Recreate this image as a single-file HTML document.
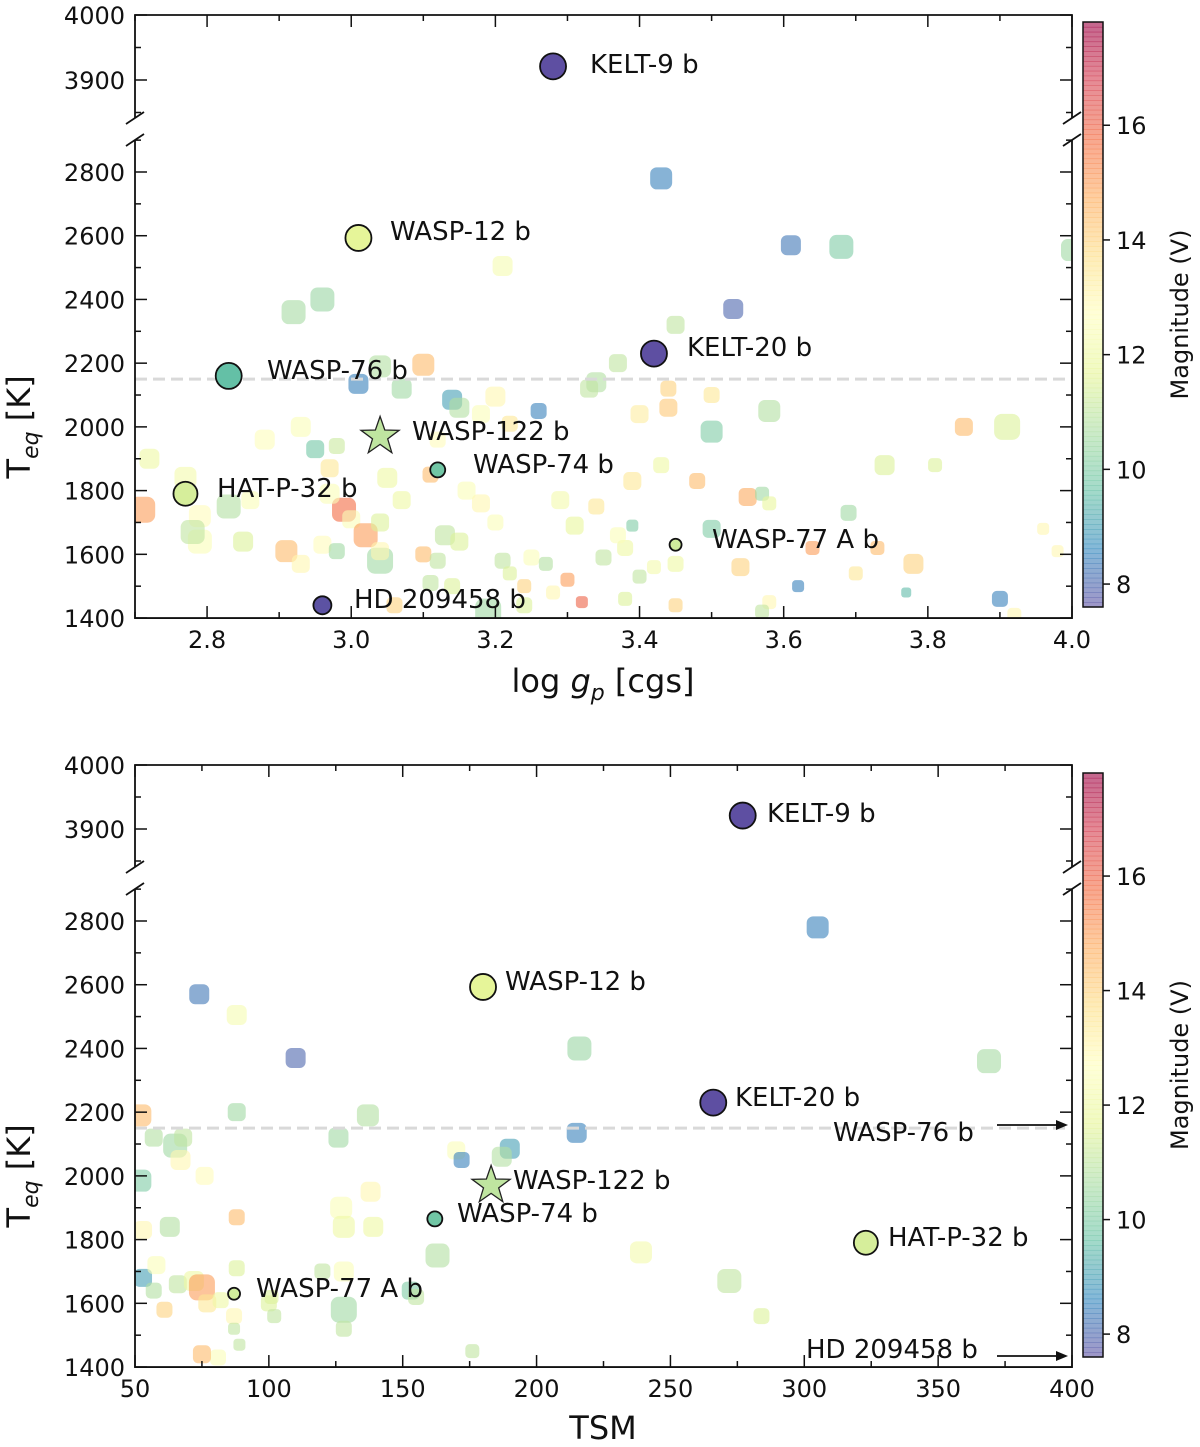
<!DOCTYPE html>
<html><head><meta charset="utf-8">
<style>
body{margin:0;background:#fff;}
svg{display:block;font-family:"DejaVu Sans","Liberation Sans",sans-serif;}
</style></head>
<body>
<svg id="fig" width="1200" height="1447" viewBox="0 0 1200 1447" xmlns="http://www.w3.org/2000/svg"></svg>
<script>
// ---------- DATA ----------
const topLogg = [3.43,3.61,3.68,4.0,3.53,3.21,2.92,2.96,3.45,3.04,3.10,3.37,3.01,3.07,3.14,3.15,3.20,3.34,3.33,3.26,3.18,3.22,3.40,3.44,3.44,3.50,3.58,3.50,3.85,3.91,2.93,2.95,2.88,2.98,2.97,2.72,2.77,2.79,2.83,2.86,2.71,2.79,2.78,2.85,2.91,2.93,2.96,2.98,2.99,2.97,3.00,3.02,3.04,3.04,3.04,3.05,3.07,3.10,3.11,3.12,3.13,3.15,3.11,3.16,3.18,3.20,3.21,3.22,3.25,3.24,3.28,3.27,3.30,3.32,3.29,3.31,3.34,3.35,3.38,3.37,3.39,3.40,3.42,3.45,3.39,3.43,3.48,3.55,3.57,3.58,3.50,3.54,3.58,3.62,3.64,3.70,3.73,3.69,3.74,3.81,3.78,3.77,3.90,3.92,3.98,3.96,3.57,3.19,3.24,3.06,3.38,3.45,3.14,3.12];
const topTeq = [2780,2570,2565,2555,2370,2505,2360,2400,2320,2190,2195,2200,2135,2120,2085,2060,2095,2140,2120,2050,2040,2010,2040,2060,2120,2100,2050,1985,2000,2000,2000,1930,1960,1940,1870,1900,1840,1720,1750,1770,1740,1640,1670,1640,1610,1570,1630,1610,1740,1790,1710,1660,1700,1580,1610,1840,1770,1600,1850,1580,1660,1640,1510,1800,1760,1700,1580,1540,1590,1500,1480,1570,1520,1450,1770,1690,1750,1590,1620,1660,1690,1530,1560,1570,1830,1880,1830,1780,1790,1760,1680,1560,1450,1500,1620,1540,1620,1730,1880,1880,1570,1480,1460,1410,1610,1680,1420,1420,1440,1440,1460,1440,1500,1960];
const topMag = [8.5,8.3,10,10.5,8,12.3,10.6,10.4,11,10.8,14.5,11,8.5,10.5,9,10.8,13,10.8,11,8.5,12.5,13.5,13.3,14.2,14,13.5,10.8,10,14.5,11.5,12.5,9.8,12.6,11.2,13.5,12,12.2,12.8,10.8,12.5,15,12.5,11,11.5,14.5,13,12.8,10.5,15.8,12.5,12.5,15,11.5,10.5,13,12,12,14.5,14.5,11,11,11.5,11,12.5,13,12.5,11,11.5,12.5,14,13,10.8,15,16,12.2,11.8,13.5,11,12,12.5,10,11,12.2,12,13.5,12,14.5,14.8,10.5,11.8,10,14,13,8.5,15,13.5,14.5,10.5,11.5,11.5,14,9.5,8.5,13,13,13,11,10.5,11.5,14,11.5,14,11.5,12.8];
const topSize = [22,20,24,22,20,20,24,24,18,22,22,18,20,20,20,20,20,20,18,16,18,16,18,18,16,16,22,22,18,26,20,18,20,16,18,20,22,22,24,18,26,24,24,20,22,18,18,16,24,20,18,24,18,26,18,20,18,16,16,16,20,18,16,18,18,16,16,14,16,14,14,14,14,12,18,18,16,16,16,16,12,14,14,16,18,16,16,18,14,14,18,18,14,12,14,14,14,16,20,14,20,10,16,14,12,12,14,26,16,16,14,14,16,16];
const botTsm = [305,74,88,110,216,369,52,57,65,68,67,88,126,137,76,52,215,190,187,170,172,138,127,128,139,63,53,88,163,239,272,284,53,57,58,61,66,72,75,77,82,81,75,87,88,89,87,100,102,120,128,128,128,153,155,176,101];
const botTeq = [2780,2570,2505,2370,2400,2360,2190,2120,2095,2120,2050,2200,2120,2190,2000,1985,2135,2085,2060,2080,2050,1950,1900,1840,1840,1840,1830,1870,1750,1760,1670,1560,1680,1640,1720,1580,1660,1670,1650,1600,1610,1430,1440,1560,1710,1470,1520,1600,1560,1700,1580,1520,1700,1640,1620,1450,1620];
const botMag = [8.5,8.3,12.3,8,10.4,10.6,14.5,10.8,10.5,11,13,10.5,10.5,10.8,12.8,10,8.5,9,10.8,12.5,8.5,13,12.5,12,12,10.8,13,14.5,10.8,12.2,11,11.5,9,10.8,12.5,14,11,12,15,13.5,12,12.5,14.5,13,11.5,11,11,11.5,11,11,10.5,11,12.5,10,11,11,11.5];
const botSize = [22,20,20,20,24,24,22,18,24,18,20,18,20,22,18,22,20,20,20,18,16,20,22,22,20,20,18,16,24,22,24,16,18,16,18,16,18,20,26,18,16,16,18,16,16,12,12,16,14,16,26,16,20,18,16,14,14];
const hlNames = ["KELT-9 b","WASP-12 b","WASP-76 b","KELT-20 b","WASP-122 b","WASP-74 b","HAT-P-32 b","WASP-77 A b","HD 209458 b"];
const hlLogg = [3.28,3.01,2.83,3.42,3.04,3.12,2.77,3.45,2.96];
const hlTsm = [277,180,430,266,183,162,323,87,430];
const hlTeq = [3921,2593,2160,2230,1970,1865,1790,1630,1440];
const hlMag = [7.6,11.7,9.6,7.6,11.0,9.8,11.4,11.3,7.65];
const hlSize = [26,26,26,26,40,15,24,12,18];
const xTicksTop = [2.8,3.0,3.2,3.4,3.6,3.8,4.0];
const xTicksBot = [50,100,150,200,250,300,350,400];
const yTicksUpper = [3900,4000];
const yTicksLower = [1400,1600,1800,2000,2200,2400,2600,2800];
const cbTicks = [8,10,12,14,16];

const NS="http://www.w3.org/2000/svg";
const svg=document.getElementById('fig');
function mk(tag,attrs,parent){const e=document.createElementNS(NS,tag);for(const k in attrs)e.setAttribute(k,attrs[k]);(parent||svg).appendChild(e);return e;}
const stops=[[0,[94,79,162]],[0.1,[50,136,189]],[0.2,[102,194,165]],[0.3,[171,221,164]],[0.4,[230,245,152]],[0.5,[255,255,191]],[0.6,[254,224,139]],[0.7,[253,174,97]],[0.8,[244,109,67]],[0.9,[213,62,79]],[1,[158,1,66]]];
const VMIN=7.6,VMAX=17.8;
function cmap(v){let t=(v-VMIN)/(VMAX-VMIN);t=Math.max(0,Math.min(1,t));for(let i=1;i<stops.length;i++){if(t<=stops[i][0]){const a=stops[i-1],b=stops[i];const f=(t-a[0])/(b[0]-a[0]);const c=a[1].map((x,j)=>Math.round(x+(b[1][j]-x)*f));return `rgb(${c[0]},${c[1]},${c[2]})`;}}return 'rgb(158,1,66)';}

function panel(cfg){
  const g=mk('g',{});
  
  
  const L=135,R=1072;
  const xs=v=>L+(v-cfg.x0)/(cfg.x1-cfg.x0)*(R-L);
  const yU=v=>cfg.yTop+(4000-v)*cfg.su;
  const yL=v=>cfg.y2800+(2800-v)*cfg.sl;
  const yv=v=>v>3000?yU(v):yL(v);
  const uBot=cfg.uBot,lTop=cfg.lTop,bot=yL(1400);
  const cid='clip'+cfg.name;
  const cp=mk('clipPath',{id:cid},g);mk('rect',{x:L,y:lTop,width:R-L,height:bot-lTop},cp);
  const pts=mk('g',{'clip-path':`url(#${cid})`},g);
  
  
  for(let i=0;i<cfg.bx.length;i++){
    const s=cfg.bs[i];
    const r=mk('rect',{x:xs(cfg.bx[i])-s/2,y:yv(cfg.by[i])-s/2,width:s,height:s,rx:s*0.3,fill:cmap(cfg.bm[i]),'fill-opacity':0.6},pts);
    
    
  }
  const dl=mk('line',{x1:L,x2:R,y1:yL(2150),y2:yL(2150),stroke:'#d9d9d9','stroke-width':3,'stroke-dasharray':'12,6'},g);
  
  
  for(let i=0;i<hlNames.length;i++){
    const xv=cfg.hx[i];
    const x=xs(xv),y=yv(hlTeq[i]),s=hlSize[i];
    if(xv>cfg.x1){continue;}
    let m;
    if(hlNames[i]==="WASP-122 b"){
      let p=[];for(let k=0;k<10;k++){const a=-Math.PI/2+k*Math.PI/5;const rr=k%2?s*0.2:s*0.5;p.push((x+rr*Math.cos(a)).toFixed(1)+','+(y+rr*Math.sin(a)).toFixed(1));}
      m=mk('polygon',{points:p.join(' '),fill:cmap(hlMag[i]),stroke:'#222','stroke-width':1.3},g);
    } else {
      m=mk('circle',{cx:x,cy:y,r:s/2,fill:cmap(hlMag[i]),stroke:'#111','stroke-width':1.8},g);
    }
    
    
  }
  cfg.labels.forEach(l=>{const t=mk('text',{x:l[1],y:l[2],'font-size':26,fill:'#111'},g);t.textContent=l[0];
    
    });
  (cfg.arrows||[]).forEach(a=>{mk('line',{x1:997,x2:1062,y1:a,y2:a,stroke:'#111','stroke-width':1.8},g);mk('polygon',{points:`1068,${a} 1056,${a-5} 1056,${a+5}`,fill:'#111'},g);});
  const sp={stroke:'#111','stroke-width':1.8,fill:'none'};
  mk('path',Object.assign({d:`M${L},${uBot}V${cfg.yTop}H${R}V${uBot}`},sp),g);
  mk('path',Object.assign({d:`M${L},${lTop}V${bot}H${R}V${lTop}`},sp),g);
  [[L,uBot],[L,lTop],[R,uBot],[R,lTop]].forEach(p=>mk('line',{x1:p[0]-9,y1:p[1]+6,x2:p[0]+9,y2:p[1]-6,stroke:'#111','stroke-width':1.8},g));
  const tk={stroke:'#111','stroke-width':1.5};
  for(let v=cfg.x0;v<=cfg.x1+1e-9;v+=cfg.xminor){const x=xs(v);const maj=cfg.xt.some(t=>Math.abs(t-v)<1e-6);const len=maj?12:6;
    mk('line',Object.assign({x1:x,x2:x,y1:bot,y2:bot-len},tk),g);mk('line',Object.assign({x1:x,x2:x,y1:cfg.yTop,y2:cfg.yTop+len},tk),g);}
  cfg.xt.forEach(v=>{const t=mk('text',{x:xs(v),y:bot+30,'font-size':24,'text-anchor':'middle',fill:'#111'},g);t.textContent=cfg.fmt(v);
    
    });
  for(let v=3850;v<=4000;v+=50){const y=yU(v);const len=v%100===0?12:6;mk('line',Object.assign({x1:L,x2:L+len,y1:y,y2:y},tk),g);mk('line',Object.assign({x1:R,x2:R-len,y1:y,y2:y},tk),g);}
  for(let v=1400;v<=2900;v+=100){const y=yL(v);if(y<lTop-0.5)continue;const len=v%200===0?12:6;mk('line',Object.assign({x1:L,x2:L+len,y1:y,y2:y},tk),g);mk('line',Object.assign({x1:R,x2:R-len,y1:y,y2:y},tk),g);}
  yTicksUpper.concat(yTicksLower).forEach(v=>{const t=mk('text',{x:125,y:yv(v)+9,'font-size':24,'text-anchor':'end',fill:'#111'},g);t.textContent=v;
    
    });
  const yt=mk('text',{x:0,y:0,'font-size':32,'text-anchor':'middle',fill:'#111',transform:`translate(${cfg.ylabX},${yL(2000)}) rotate(-90)`},g);
  yt.innerHTML='T<tspan font-size="22" dy="8" font-style="italic">eq</tspan><tspan dy="-8"> [K]</tspan>';
  
  
  const xt=mk('text',{x:603,y:bot+cfg.xlabDy,'font-size':32,'text-anchor':'middle',fill:'#111'},g);
  xt.innerHTML=cfg.xlab;
  
  
  const cb=mk('g',{},g);
  
  
  const c0=cfg.cbTop,c1=cfg.cbBot;const cy=v=>c1-(v-VMIN)/(VMAX-VMIN)*(c1-c0);
  for(let k=0;k<120;k++){const v0=VMIN+(VMAX-VMIN)*k/120,v1=VMIN+(VMAX-VMIN)*(k+1)/120;
    mk('rect',{x:1083,y:cy(v1),width:20,height:cy(v0)-cy(v1)+0.6,fill:cmap((v0+v1)/2),'fill-opacity':0.6},cb);}
  mk('rect',{x:1083,y:c0,width:20,height:c1-c0,fill:'none',stroke:'#111','stroke-width':1.5},cb);
  cbTicks.forEach(v=>{mk('line',Object.assign({x1:1103,x2:1110,y1:cy(v),y2:cy(v)},tk),cb);
    const t=mk('text',{x:1116,y:cy(v)+9,'font-size':24,fill:'#111'},cb);t.textContent=v;});
  const cl=mk('text',{x:0,y:0,'font-size':24,'text-anchor':'middle',fill:'#111',transform:`translate(1188,${(c0+c1)/2}) rotate(-90)`},cb);cl.textContent='Magnitude (V)';
}

panel({name:'top-panel',x0:2.7,x1:4.0,xminor:0.1,xt:xTicksTop,fmt:v=>v.toFixed(1),
  yTop:15,su:0.65,y2800:172,sl:0.3186,uBot:118,lTop:140,
  bx:topLogg,by:topTeq,bm:topMag,bs:topSize,hx:hlLogg,
  labels:[["KELT-9 b",590,73],["WASP-12 b",390,240],["WASP-76 b",267,379],["KELT-20 b",687,356],["WASP-122 b",412,440],["WASP-74 b",473,473],["HAT-P-32 b",217,497],["WASP-77 A b",712,548],["HD 209458 b",354,608]],
  ylabX:30,xlab:'log <tspan font-style="italic">g</tspan><tspan font-size="22" dy="8" font-style="italic">p</tspan><tspan dy="-8"> [cgs]</tspan>',xlabDy:74,
  cbTop:22,cbBot:607});
panel({name:'bottom-panel',x0:50,x1:400,xminor:25,xt:xTicksBot,fmt:v=>String(v),
  yTop:765,su:0.64,y2800:921,sl:0.3186,uBot:867,lTop:889,
  bx:botTsm,by:botTeq,bm:botMag,bs:botSize,hx:hlTsm,
  labels:[["KELT-9 b",767,822],["WASP-12 b",505,990],["KELT-20 b",735,1106],["WASP-76 b",833,1141],["WASP-122 b",513,1189],["WASP-74 b",457,1222],["HAT-P-32 b",888,1246],["WASP-77 A b",256,1297],["HD 209458 b",806,1358]],
  arrows:[1125,1356],
  ylabX:30,xlab:'TSM',xlabDy:72,
  cbTop:773,cbBot:1357});
</script>
</body></html>
